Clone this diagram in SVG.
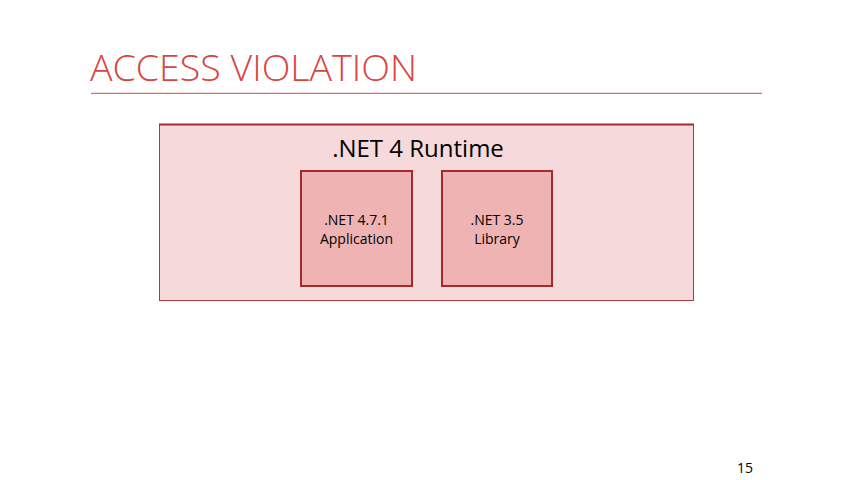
<svg xmlns="http://www.w3.org/2000/svg" width="853" height="480" viewBox="0 0 853 480">
<style>
text{font-family:"Open Sans","Noto Sans","Liberation Sans",sans-serif;fill:#000}
.title{font-size:37.5px;font-weight:300;fill:#d9453f}
.inner rect{fill:#f0b3b3;stroke:#a52a2a;stroke-width:2}
.inner text{font-size:14px;text-anchor:middle}
</style>
<rect width="853" height="480" fill="#fff"/>
<text class="title" x="90" y="81" textLength="327" lengthAdjust="spacingAndGlyphs">ACCESS VIOLATION</text>
<line x1="91" y1="93.3" x2="762" y2="93.3" stroke="#c0504d" stroke-width="1"/>
<g id="runtime">
<rect x="159.5" y="124.5" width="534" height="176" fill="#f6d9da" stroke="#b03a3a" stroke-width="1"/>
<line x1="159" y1="124.5" x2="694" y2="124.5" stroke="#a52a2a" stroke-width="2"/>
<text x="418" y="157" font-size="24" text-anchor="middle">.NET 4 Runtime</text>
</g>
<g id="app" class="inner">
<rect x="301" y="171" width="111" height="115"/>
<text x="356.5" y="225">.NET 4.7.1</text>
<text x="356.5" y="244">Application</text>
</g>
<g id="lib" class="inner">
<rect x="442" y="171" width="110" height="115"/>
<text x="497" y="225">.NET 3.5</text>
<text x="497" y="244">Library</text>
</g>
<g id="connectors"></g>
<text x="745" y="473" font-size="14" text-anchor="middle">15</text>
</svg>
